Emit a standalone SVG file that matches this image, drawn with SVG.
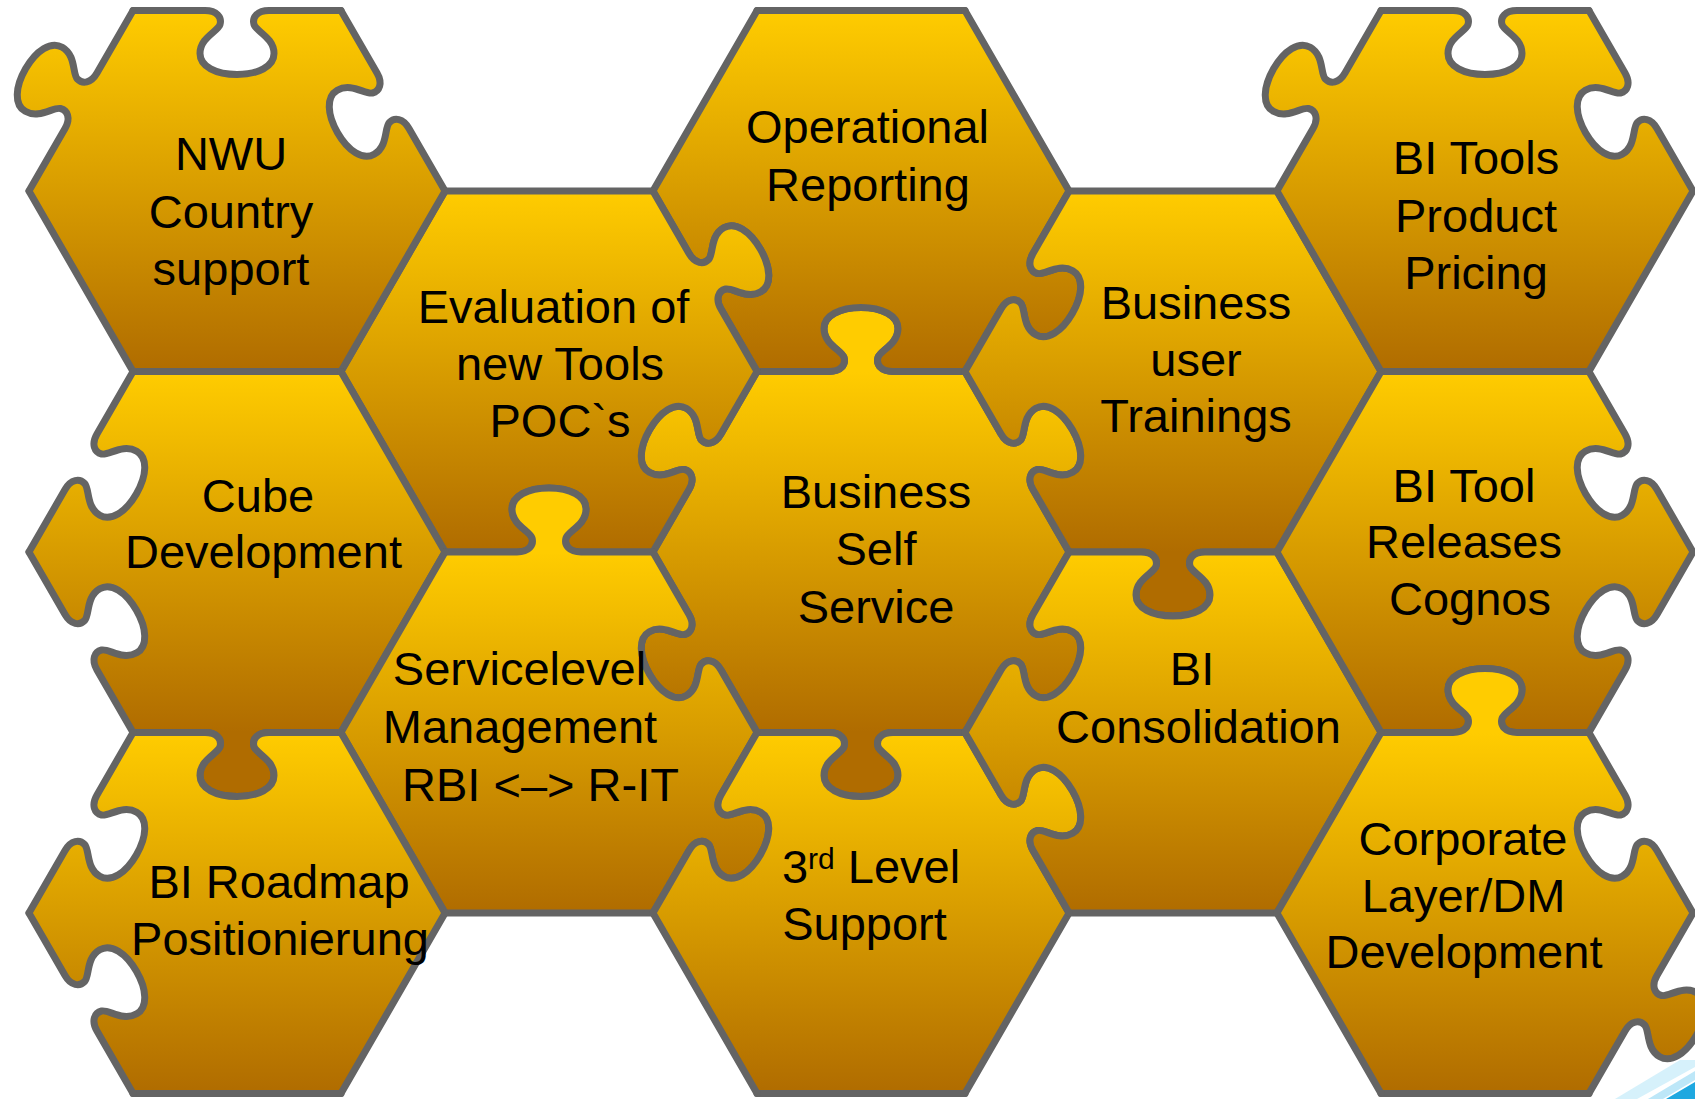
<svg xmlns="http://www.w3.org/2000/svg" width="1695" height="1099" viewBox="0 0 1695 1099">
<style>
.ol{fill:none;stroke:#646464;stroke-width:7;stroke-linejoin:round;stroke-linecap:round}
.lb{font-family:"Liberation Sans",Arial,Helvetica,sans-serif;font-size:47px;fill:#000;text-anchor:middle}
.sup{font-size:30px}
.on{fill:#fff}
.off{fill:#000}
</style>
<defs>
<linearGradient id="gold" gradientUnits="userSpaceOnUse" x1="0" y1="-180" x2="0" y2="180">
<stop offset="0" stop-color="#FFCC00"/>
<stop offset="1" stop-color="#B06C00"/>
</linearGradient>
<polygon id="hex" points="208,0 104,180.5 -104,180.5 -208,0 -104,-180.5 104,-180.5"/>
<path id="eS" d="M-104,0 L104,0"/>
<path id="eT" d="M-104,0 L-32,0 C-20,0 -15,7 -17,14 C-19,21 -37,27 -37,43 C-37,56 -21,64 0,64 C21,64 37,56 37,43 C37,27 19,21 17,14 C15,7 20,0 32,0 L104,0"/>
<path id="tF" d="M-32,-4 L-32,0 C-20,0 -15,7 -17,14 C-19,21 -37,27 -37,43 C-37,56 -21,64 0,64 C21,64 37,56 37,43 C37,27 19,21 17,14 C15,7 20,0 32,0 L32,-4 Z"/>
<!-- masks: body + outward knobs (white) - inward notches (black) -->
<mask id="m-nwu" maskUnits="userSpaceOnUse" x="-300" y="-300" width="600" height="600">
<use href="#hex" class="on"/>
<use href="#tF" class="on" transform="translate(-156,-90.25) rotate(119.95)"/>
<use href="#tF" class="off" transform="translate(0,-180.5)"/>
<use href="#tF" class="off" transform="translate(156,-90.25) rotate(60.05)"/>
</mask>
<mask id="m-eval" maskUnits="userSpaceOnUse" x="-300" y="-300" width="600" height="600">
<use href="#hex" class="on"/>
<use href="#tF" class="on" transform="translate(156,-90.25) rotate(240.05)"/>
<use href="#tF" class="off" transform="translate(156,90.25) rotate(119.95)"/>
<use href="#tF" class="off" transform="translate(0,180.5) rotate(180)"/>
</mask>
<mask id="m-op" maskUnits="userSpaceOnUse" x="-300" y="-300" width="600" height="600">
<use href="#hex" class="on"/>
<use href="#tF" class="on" transform="translate(156,90.25) rotate(-60.05)"/>
<use href="#tF" class="off" transform="translate(-156,90.25) rotate(240.05)"/>
<use href="#tF" class="off" transform="translate(0,180.5) rotate(180)"/>
</mask>
<mask id="m-bu" maskUnits="userSpaceOnUse" x="-300" y="-300" width="600" height="600">
<use href="#hex" class="on"/>
<use href="#tF" class="on" transform="translate(0,180.5)"/>
<use href="#tF" class="off" transform="translate(-156,-90.25) rotate(-60.05)"/>
<use href="#tF" class="off" transform="translate(-156,90.25) rotate(240.05)"/>
</mask>
<mask id="m-bss" maskUnits="userSpaceOnUse" x="-300" y="-300" width="600" height="600">
<use href="#hex" class="on"/>
<use href="#tF" class="on" transform="translate(0,-180.5) rotate(180)"/>
<use href="#tF" class="on" transform="translate(156,-90.25) rotate(240.05)"/>
<use href="#tF" class="on" transform="translate(156,90.25) rotate(-60.05)"/>
<use href="#tF" class="on" transform="translate(0,180.5)"/>
<use href="#tF" class="on" transform="translate(-156,90.25) rotate(60.05)"/>
<use href="#tF" class="on" transform="translate(-156,-90.25) rotate(119.95)"/>
</mask>
<mask id="m-bitr" maskUnits="userSpaceOnUse" x="-300" y="-300" width="600" height="600">
<use href="#hex" class="on"/>
<use href="#tF" class="off" transform="translate(156,-90.25) rotate(60.05)"/>
<use href="#tF" class="off" transform="translate(156,90.25) rotate(119.95)"/>
<use href="#tF" class="off" transform="translate(0,180.5) rotate(180)"/>
</mask>
<mask id="m-svc" maskUnits="userSpaceOnUse" x="-300" y="-300" width="600" height="600">
<use href="#hex" class="on"/>
<use href="#tF" class="on" transform="translate(0,-180.5) rotate(180)"/>
<use href="#tF" class="on" transform="translate(156,90.25) rotate(-60.05)"/>
<use href="#tF" class="off" transform="translate(156,-90.25) rotate(60.05)"/>
</mask>
<mask id="m-bicons" maskUnits="userSpaceOnUse" x="-300" y="-300" width="600" height="600">
<use href="#hex" class="on"/>
<use href="#tF" class="off" transform="translate(0,-180.5)"/>
<use href="#tF" class="off" transform="translate(-156,-90.25) rotate(-60.05)"/>
<use href="#tF" class="off" transform="translate(-156,90.25) rotate(240.05)"/>
</mask>
<mask id="m-third" maskUnits="userSpaceOnUse" x="-300" y="-300" width="600" height="600">
<use href="#hex" class="on"/>
<use href="#tF" class="on" transform="translate(156,-90.25) rotate(240.05)"/>
<use href="#tF" class="off" transform="translate(0,-180.5)"/>
<use href="#tF" class="off" transform="translate(-156,-90.25) rotate(-60.05)"/>
</mask>
<mask id="m-corp" maskUnits="userSpaceOnUse" x="-300" y="-300" width="600" height="600">
<use href="#hex" class="on"/>
<use href="#tF" class="on" transform="translate(0,-180.5) rotate(180)"/>
<use href="#tF" class="on" transform="translate(156,90.25) rotate(-60.05)"/>
<use href="#tF" class="off" transform="translate(156,-90.25) rotate(60.05)"/>
</mask>
</defs>

<g id="logo-fragment">
<polygon points="1615,1099 1680,1060 1695,1060 1695,1067 1637,1099" fill="#D6F1FB"/>
<polygon points="1648,1099 1695,1071 1695,1080 1663,1099" fill="#BDE7F8"/>
<polygon points="1666,1099 1695,1082 1695,1099" fill="#1FA8E0"/>
</g>

<g id="connectors"></g>

<g id="node-bss" transform="translate(861,552)">
<rect x="-300" y="-300" width="600" height="600" fill="url(#gold)" mask="url(#m-bss)"/>
<g class="ol">
<use href="#eT" transform="translate(0,-180.5) rotate(180)"/>
<use href="#eT" transform="translate(156,-90.25) rotate(240.05)"/>
<use href="#eT" transform="translate(156,90.25) rotate(-60.05)"/>
<use href="#eT" transform="translate(0,180.5)"/>
<use href="#eT" transform="translate(-156,90.25) rotate(60.05)"/>
<use href="#eT" transform="translate(-156,-90.25) rotate(119.95)"/>
</g>
<text class="lb"><tspan x="15" y="-44">Business</tspan><tspan x="15" y="13">Self</tspan><tspan x="15" y="71">Service</tspan></text>
</g>

<g id="node-op" transform="translate(861,191)">
<rect x="-300" y="-300" width="600" height="600" fill="url(#gold)" mask="url(#m-op)"/>
<g class="ol">
<use href="#eS" transform="translate(0,-180.5)"/>
<use href="#eS" transform="translate(156,-90.25) rotate(60.05)"/>
<use href="#eT" transform="translate(156,90.25) rotate(-60.05)"/>
<use href="#eT" transform="translate(0,180.5) rotate(180)"/>
<use href="#eT" transform="translate(-156,90.25) rotate(240.05)"/>
<use href="#eS" transform="translate(-156,-90.25) rotate(119.95)"/>
</g>
<text class="lb"><tspan x="6.5" y="-48">Operational</tspan><tspan x="7" y="10">Reporting</tspan></text>
</g>

<g id="node-eval" transform="translate(549,371.5)">
<rect x="-300" y="-300" width="600" height="600" fill="url(#gold)" mask="url(#m-eval)"/>
<g class="ol">
<use href="#eS" transform="translate(0,-180.5)"/>
<use href="#eT" transform="translate(156,-90.25) rotate(240.05)"/>
<use href="#eT" transform="translate(156,90.25) rotate(119.95)"/>
<use href="#eT" transform="translate(0,180.5) rotate(180)"/>
<use href="#eS" transform="translate(-156,90.25) rotate(60.05)"/>
<use href="#eS" transform="translate(-156,-90.25) rotate(119.95)"/>
</g>
<text class="lb"><tspan x="4.5" y="-48.5">Evaluation of</tspan><tspan x="11" y="8.5">new Tools</tspan><tspan x="11" y="65.5">POC`s</tspan></text>
</g>

<g id="node-bu" transform="translate(1173,371.5)">
<rect x="-300" y="-300" width="600" height="600" fill="url(#gold)" mask="url(#m-bu)"/>
<g class="ol">
<use href="#eS" transform="translate(0,-180.5)"/>
<use href="#eS" transform="translate(156,-90.25) rotate(60.05)"/>
<use href="#eS" transform="translate(156,90.25) rotate(119.95)"/>
<use href="#eT" transform="translate(0,180.5)"/>
<use href="#eT" transform="translate(-156,90.25) rotate(240.05)"/>
<use href="#eT" transform="translate(-156,-90.25) rotate(-60.05)"/>
</g>
<text class="lb"><tspan x="23" y="-52.5">Business</tspan><tspan x="23" y="4.5">user</tspan><tspan x="23" y="60.5">Trainings</tspan></text>
</g>

<g id="node-bitools" transform="translate(1485,191)">
<rect x="-300" y="-300" width="600" height="600" fill="url(#gold)" mask="url(#m-nwu)"/>
<g class="ol">
<use href="#eT" transform="translate(0,-180.5)"/>
<use href="#eT" transform="translate(156,-90.25) rotate(60.05)"/>
<use href="#eS" transform="translate(156,90.25) rotate(119.95)"/>
<use href="#eS" transform="translate(0,180.5)"/>
<use href="#eS" transform="translate(-156,90.25) rotate(60.05)"/>
<use href="#eT" transform="translate(-156,-90.25) rotate(119.95)"/>
</g>
<text class="lb"><tspan x="-9" y="-17">BI Tools</tspan><tspan x="-9" y="40.5">Product</tspan><tspan x="-9" y="98">Pricing</tspan></text>
</g>

<g id="node-nwu" transform="translate(237,191)">
<rect x="-300" y="-300" width="600" height="600" fill="url(#gold)" mask="url(#m-nwu)"/>
<g class="ol">
<use href="#eT" transform="translate(0,-180.5)"/>
<use href="#eT" transform="translate(156,-90.25) rotate(60.05)"/>
<use href="#eS" transform="translate(156,90.25) rotate(119.95)"/>
<use href="#eS" transform="translate(0,180.5)"/>
<use href="#eS" transform="translate(-156,90.25) rotate(60.05)"/>
<use href="#eT" transform="translate(-156,-90.25) rotate(119.95)"/>
</g>
<text class="lb"><tspan x="-6" y="-21">NWU</tspan><tspan x="-6" y="37">Country</tspan><tspan x="-6" y="94">support</tspan></text>
</g>

<g id="node-cube" transform="translate(237,552)">
<rect x="-300" y="-300" width="600" height="600" fill="url(#gold)" mask="url(#m-bu)"/>
<g class="ol">
<use href="#eS" transform="translate(0,-180.5)"/>
<use href="#eS" transform="translate(156,-90.25) rotate(60.05)"/>
<use href="#eS" transform="translate(156,90.25) rotate(119.95)"/>
<use href="#eT" transform="translate(0,180.5)"/>
<use href="#eT" transform="translate(-156,90.25) rotate(240.05)"/>
<use href="#eT" transform="translate(-156,-90.25) rotate(-60.05)"/>
</g>
<text class="lb"><tspan x="21" y="-40">Cube</tspan><tspan x="26.5" y="16">Development</tspan></text>
</g>

<g id="node-svc" transform="translate(549,732.5)">
<rect x="-300" y="-300" width="600" height="600" fill="url(#gold)" mask="url(#m-svc)"/>
<g class="ol">
<use href="#eT" transform="translate(0,-180.5) rotate(180)"/>
<use href="#eT" transform="translate(156,-90.25) rotate(60.05)"/>
<use href="#eT" transform="translate(156,90.25) rotate(-60.05)"/>
<use href="#eS" transform="translate(0,180.5)"/>
<use href="#eS" transform="translate(-156,90.25) rotate(60.05)"/>
<use href="#eS" transform="translate(-156,-90.25) rotate(119.95)"/>
</g>
<text class="lb"><tspan x="-29.5" y="-47.5">Servicelevel</tspan><tspan x="-29" y="10.5">Management</tspan><tspan x="-8.5" y="68.5">RBI &lt;–&gt; R-IT</tspan></text>
</g>

<g id="node-third" transform="translate(861,913)">
<rect x="-300" y="-300" width="600" height="600" fill="url(#gold)" mask="url(#m-third)"/>
<g class="ol">
<use href="#eT" transform="translate(0,-180.5)"/>
<use href="#eT" transform="translate(156,-90.25) rotate(240.05)"/>
<use href="#eS" transform="translate(156,90.25) rotate(119.95)"/>
<use href="#eS" transform="translate(0,180.5)"/>
<use href="#eS" transform="translate(-156,90.25) rotate(60.05)"/>
<use href="#eT" transform="translate(-156,-90.25) rotate(-60.05)"/>
</g>
<text class="lb"><tspan x="10" y="-30">3</tspan><tspan class="sup" dy="-14">rd</tspan><tspan dy="14"> Level</tspan><tspan x="3.5" y="27">Support</tspan></text>
</g>

<g id="node-bicons" transform="translate(1173,732.5)">
<rect x="-300" y="-300" width="600" height="600" fill="url(#gold)" mask="url(#m-bicons)"/>
<g class="ol">
<use href="#eT" transform="translate(0,-180.5)"/>
<use href="#eS" transform="translate(156,-90.25) rotate(60.05)"/>
<use href="#eS" transform="translate(156,90.25) rotate(119.95)"/>
<use href="#eS" transform="translate(0,180.5)"/>
<use href="#eT" transform="translate(-156,90.25) rotate(240.05)"/>
<use href="#eT" transform="translate(-156,-90.25) rotate(-60.05)"/>
</g>
<text class="lb"><tspan x="19" y="-47.5">BI</tspan><tspan x="25.5" y="10.5">Consolidation</tspan></text>
</g>

<g id="node-bitr" transform="translate(1485,552)">
<rect x="-300" y="-300" width="600" height="600" fill="url(#gold)" mask="url(#m-bitr)"/>
<g class="ol">
<use href="#eS" transform="translate(0,-180.5)"/>
<use href="#eT" transform="translate(156,-90.25) rotate(60.05)"/>
<use href="#eT" transform="translate(156,90.25) rotate(119.95)"/>
<use href="#eT" transform="translate(0,180.5) rotate(180)"/>
<use href="#eS" transform="translate(-156,90.25) rotate(60.05)"/>
<use href="#eS" transform="translate(-156,-90.25) rotate(119.95)"/>
</g>
<text class="lb"><tspan x="-21" y="-50">BI Tool</tspan><tspan x="-21" y="6">Releases</tspan><tspan x="-15" y="63">Cognos</tspan></text>
</g>

<g id="node-corp" transform="translate(1485,913)">
<rect x="-300" y="-300" width="600" height="600" fill="url(#gold)" mask="url(#m-corp)"/>
<g class="ol">
<use href="#eT" transform="translate(0,-180.5) rotate(180)"/>
<use href="#eT" transform="translate(156,-90.25) rotate(60.05)"/>
<use href="#eT" transform="translate(156,90.25) rotate(-60.05)"/>
<use href="#eS" transform="translate(0,180.5)"/>
<use href="#eS" transform="translate(-156,90.25) rotate(60.05)"/>
<use href="#eS" transform="translate(-156,-90.25) rotate(119.95)"/>
</g>
<text class="lb"><tspan x="-22" y="-58">Corporate</tspan><tspan x="-21.5" y="-1">Layer/DM</tspan><tspan x="-21" y="55">Development</tspan></text>
</g>

<g id="node-roadmap" transform="translate(237,913)">
<rect x="-300" y="-300" width="600" height="600" fill="url(#gold)" mask="url(#m-bicons)"/>
<g class="ol">
<use href="#eT" transform="translate(0,-180.5)"/>
<use href="#eS" transform="translate(156,-90.25) rotate(60.05)"/>
<use href="#eS" transform="translate(156,90.25) rotate(119.95)"/>
<use href="#eS" transform="translate(0,180.5)"/>
<use href="#eT" transform="translate(-156,90.25) rotate(240.05)"/>
<use href="#eT" transform="translate(-156,-90.25) rotate(-60.05)"/>
</g>
<text class="lb"><tspan x="42" y="-15">BI Roadmap</tspan><tspan x="43" y="42">Positionierung</tspan></text>
</g>
</svg>
